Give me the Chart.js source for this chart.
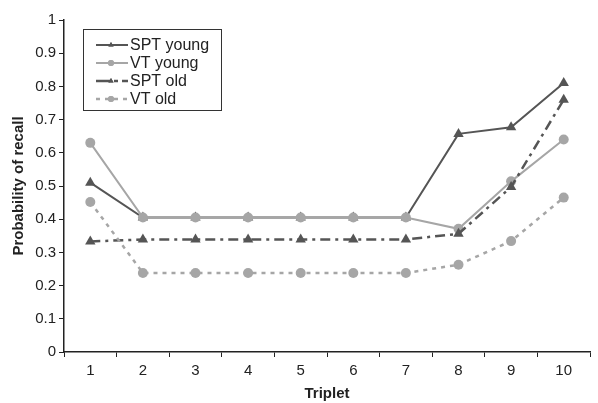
<!DOCTYPE html>
<html>
<head>
<meta charset="utf-8">
<script src="https://cdn.jsdelivr.net/npm/chart.js"></script>
<style>
  html, body { margin: 0; padding: 0; background: #fff; }
  #wrap { position: relative; width: 598px; height: 403px; }
</style>
</head>
<body>
<div id="wrap"><canvas id="chart"></canvas></div>
<script>
// Values
const triplets = ['1', '2', '3', '4', '5', '6', '7', '8', '9', '10'];
const sptYoung = [0.51, 0.405, 0.405, 0.405, 0.405, 0.405, 0.405, 0.657, 0.677, 0.81];
const vtYoung  = [0.63, 0.405, 0.405, 0.405, 0.405, 0.405, 0.405, 0.371, 0.514, 0.64];
const sptOld   = [0.333, 0.339, 0.339, 0.339, 0.339, 0.339, 0.339, 0.356, 0.497, 0.76];
const vtOld    = [0.452, 0.238, 0.238, 0.238, 0.238, 0.238, 0.238, 0.263, 0.334, 0.465];
const yTicks   = [0, 0.1, 0.2, 0.3, 0.4, 0.5, 0.6, 0.7, 0.8, 0.9, 1];

const DARK = '#555555', LIGHT = '#a6a6a6';
const FONT = '"Liberation Sans", Arial, sans-serif';

const series = [
    { label: 'SPT young', data: sptYoung, color: DARK,  dash: [],            legendDash: [],             style: 'triangle', r: 6,   w: 2,   order: 4 },
    { label: 'VT young',  data: vtYoung,  color: LIGHT, dash: [],            legendDash: [],             style: 'circle',   r: 5,   w: 2,   order: 3 },
    { label: 'SPT old',   data: sptOld,   color: DARK,  dash: [10, 5, 3, 5], legendDash: [14, 4, 4, 4],  style: 'triangle', r: 6,   w: 2.5, order: 2 },
    { label: 'VT old',    data: vtOld,    color: LIGHT, dash: [4, 5],        legendDash: [4, 5],         style: 'circle',   r: 5,   w: 2.5, order: 1 }
];

// Boxed legend drawn inside the plot area, top-left
const boxLegend = {
    id: 'boxLegend',
    afterDraw(chart) {
        const { ctx } = chart;
        const x0 = 83, y0 = 29, w = 138, h = 81;
        ctx.save();
        ctx.fillStyle = '#fff';
        ctx.fillRect(x0, y0, w, h);
        ctx.strokeStyle = '#333';
        ctx.lineWidth = 1;
        ctx.strokeRect(x0 + 0.5, y0 + 0.5, w, h);
        series.forEach((s, i) => {
            const y = 45 + i * 18;
            ctx.strokeStyle = s.color;
            ctx.lineWidth = s.w;
            ctx.setLineDash(s.legendDash);
            ctx.beginPath();
            ctx.moveTo(96, y);
            ctx.lineTo(128, y);
            ctx.stroke();
            ctx.setLineDash([]);
            ctx.fillStyle = s.color;
            Chart.helpers.drawPoint(ctx, { pointStyle: s.style, radius: 3, borderWidth: 0 }, 111, y);
            ctx.fill();
            ctx.fillStyle = '#222';
            ctx.font = '16px ' + FONT;
            ctx.textBaseline = 'middle';
            ctx.fillText(s.label, 130, y + 1);
        });
        ctx.restore();
    }
};

new Chart(document.getElementById('chart'), {
    type: 'line',
    data: {
        labels: triplets,
        datasets: series.map(s => ({
            label: s.label,
            data: s.data,
            borderColor: s.color,
            backgroundColor: s.color,
            pointBackgroundColor: s.color,
            pointBorderColor: s.color,
            borderWidth: s.w,
            borderDash: s.dash,
            pointStyle: s.style,
            pointRadius: s.r,
            pointBorderWidth: 0,
            tension: 0,
            fill: false,
            order: s.order
        }))
    },
    options: {
        responsive: true,
        maintainAspectRatio: false,
        animation: false,
        devicePixelRatio: 1,
        layout: { padding: { top: 20, right: 8, left: 0, bottom: 0 } },
        plugins: { legend: { display: false }, tooltip: { enabled: false } },
        scales: {
            x: {
                offset: true,
                grid: { display: true, offset: true, drawOnChartArea: false, drawTicks: true, tickLength: 5, color: '#222' },
                border: { display: true, color: '#222', width: 1.5 },
                ticks: { color: '#222', font: { family: FONT, size: 15 }, padding: 5 },
                title: { display: true, text: 'Triplet', color: '#222', font: { family: FONT, size: 15, weight: 'bold' }, padding: { top: 0, bottom: 0 } },
                afterFit(scale) { scale.height = 51; }
            },
            y: {
                min: 0,
                max: 1,
                afterBuildTicks(scale) { scale.ticks = yTicks.map(v => ({ value: v })); },
                grid: { display: true, drawOnChartArea: false, drawTicks: true, tickLength: 5, color: '#222' },
                border: { display: true, color: '#222', width: 1.5 },
                ticks: { color: '#222', font: { family: FONT, size: 15 }, padding: 3, callback: v => String(v) },
                title: { display: true, text: 'Probability of recall', color: '#222', font: { family: FONT, size: 15, weight: 'bold' }, padding: { top: 10, bottom: 2 } },
                afterFit(scale) { scale.width = 64; }
            }
        }
    },
    plugins: [boxLegend]
});
</script>
</body>
</html>
